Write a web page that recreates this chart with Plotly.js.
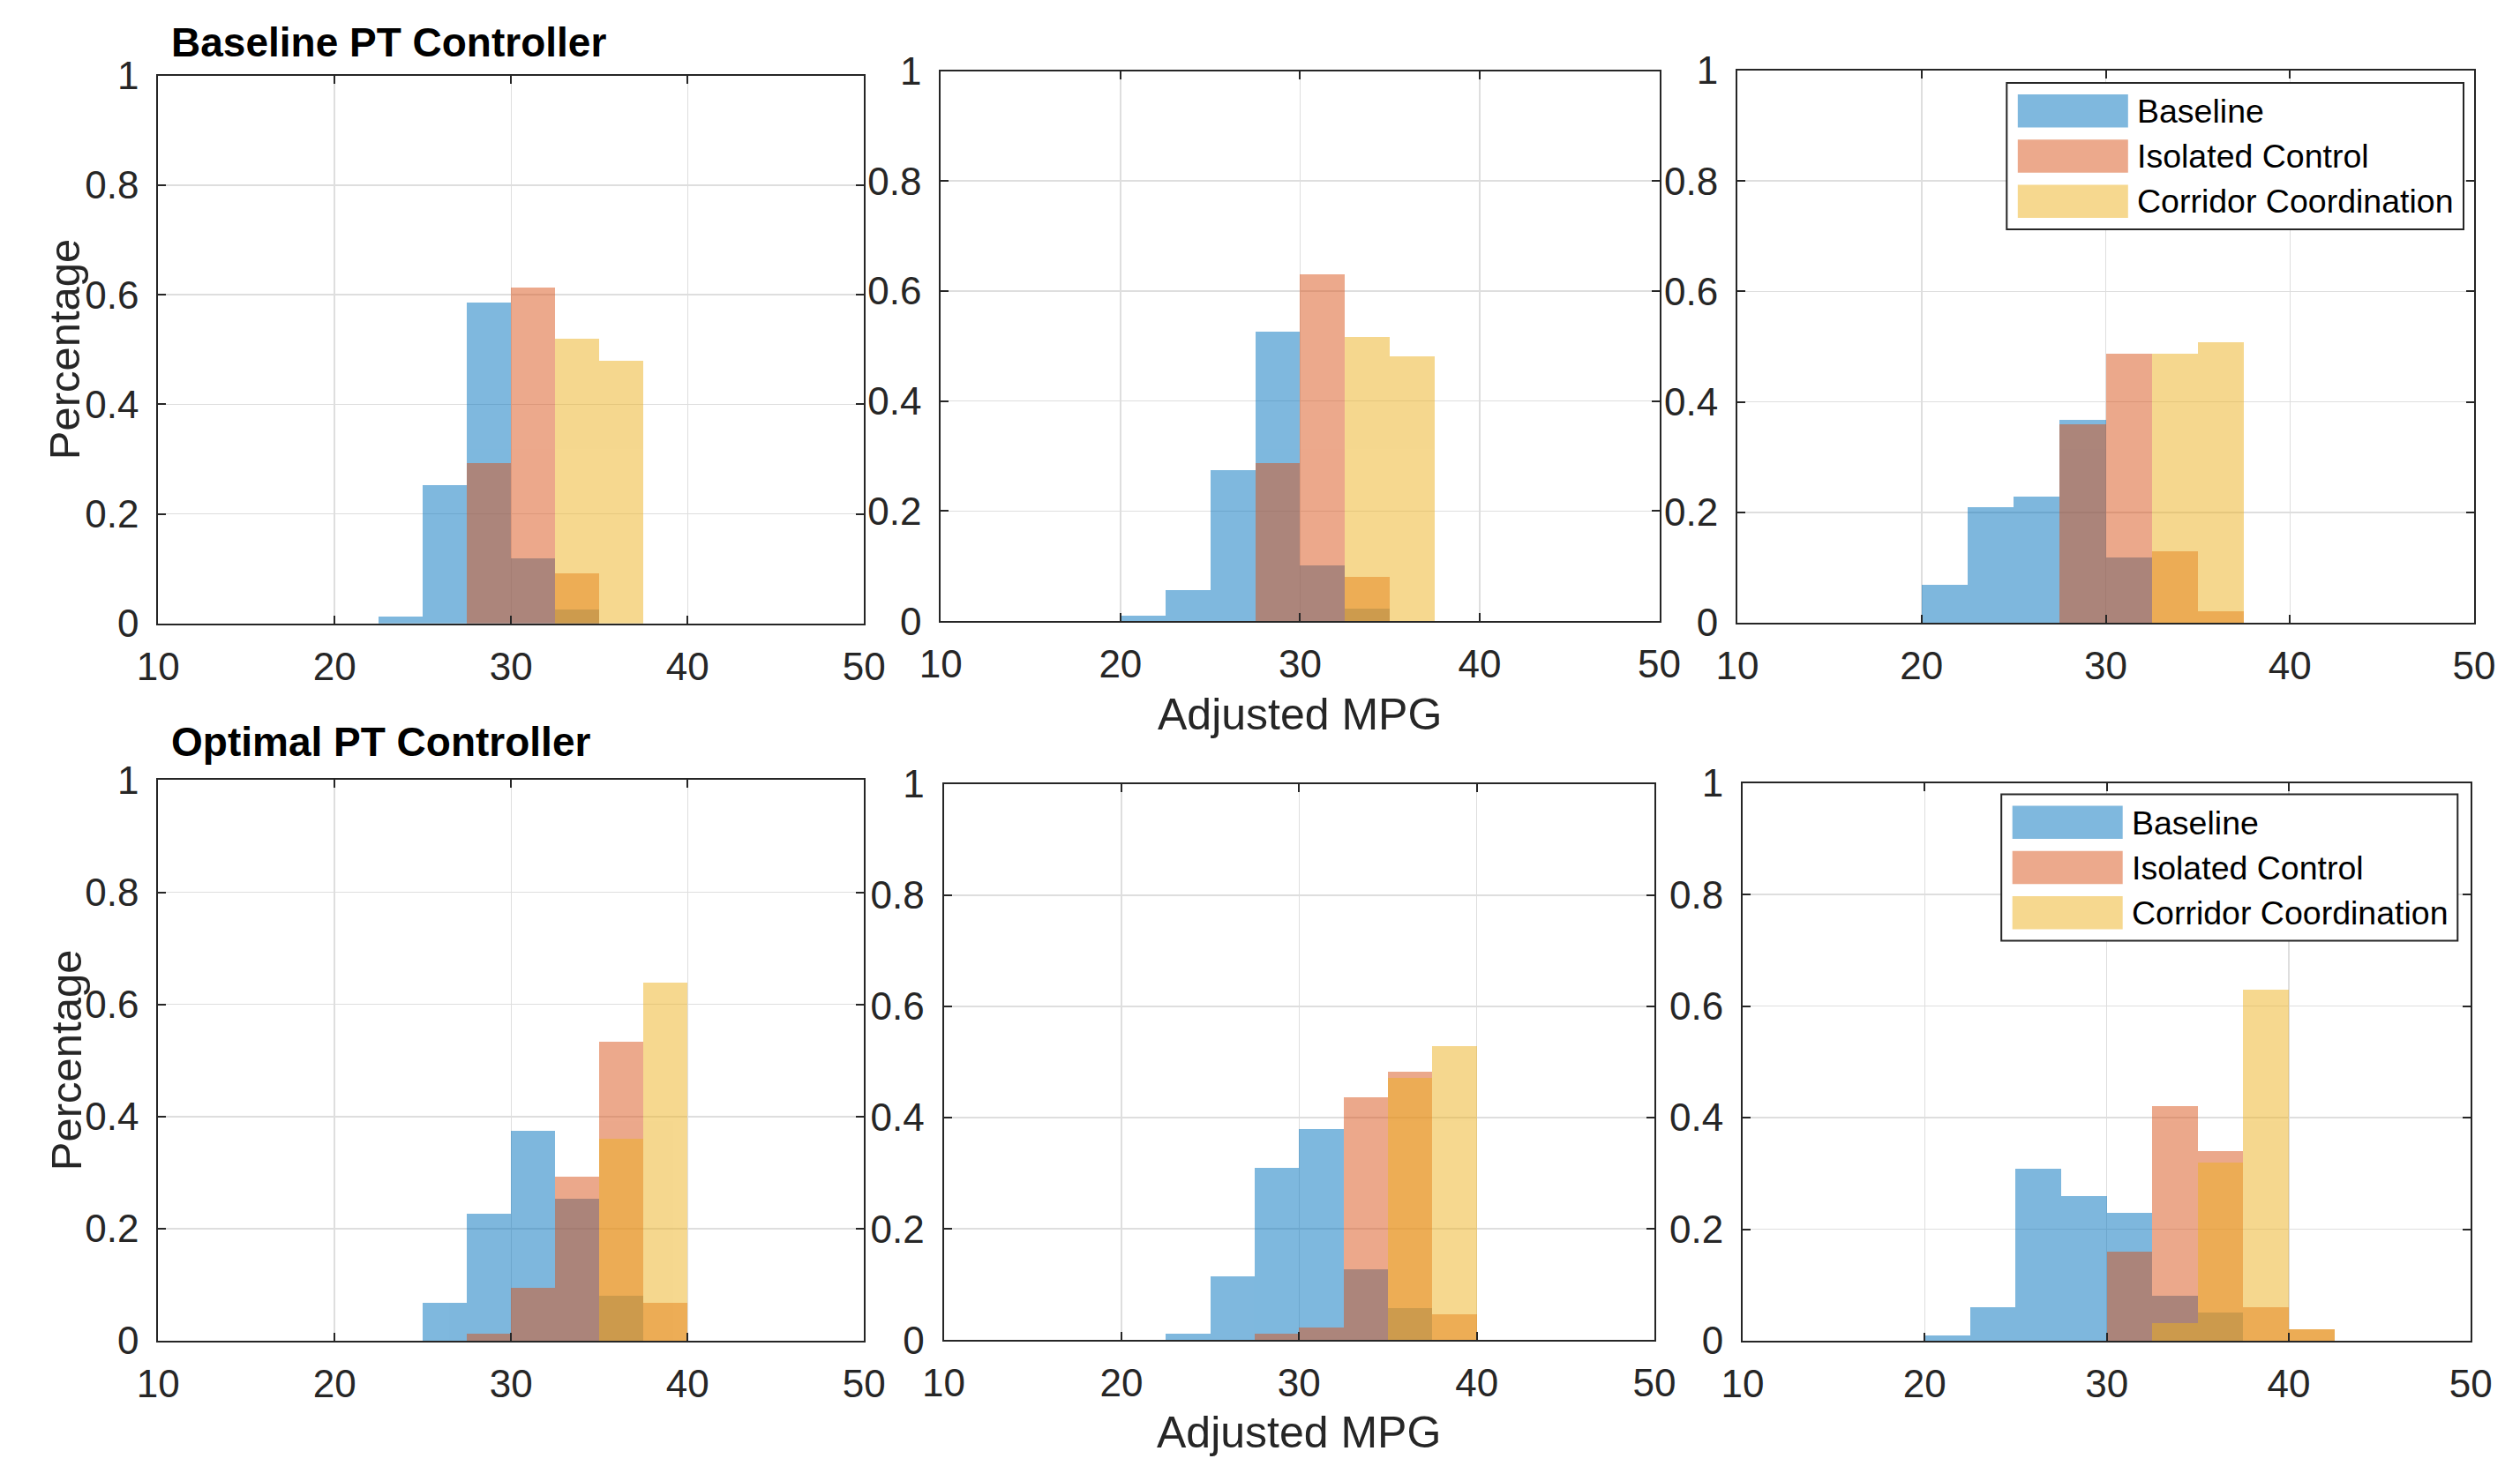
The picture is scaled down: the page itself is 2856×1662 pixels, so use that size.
<!DOCTYPE html>
<html>
<head>
<meta charset="utf-8">
<script src="https://cdn.plot.ly/plotly-3.0.1.min.js"></script>
<style>
  html, body { margin: 0; padding: 0; background: #ffffff; }
  #chart { width: 2856px; height: 1662px; }
</style>
</head>
<body>
<div id="chart"></div>
<script>
// Histogram bins (left edges, MPG) shared by every panel
const binLeft = [20, 22.5, 25, 27.5, 30, 32.5, 35, 37.5, 40];
const binWidth = 2.5;

const seriesNames = ['Baseline', 'Isolated Control', 'Corridor Coordination'];

const xTickVals = [10, 20, 30, 40, 50];
const yTickVals = [0, 0.2, 0.4, 0.6, 0.8, 1];
const yTickText = ['0', '0.2', '0.4', '0.6', '0.8', '1'];

const rowTitles = ['Baseline PT Controller', 'Optimal PT Controller'];
const xAxisLabel = 'Adjusted MPG';
const yAxisLabel = 'Percentage';

// Baseline PT controller - fraction of trips per bin
const basePT1Baseline = [0, 0.012, 0.252, 0.586, 0.119, 0.026, 0, 0, 0];
const basePT1Isolated = [0, 0, 0, 0.292, 0.613, 0.092, 0, 0, 0];
const basePT1Corridor = [0, 0, 0, 0, 0, 0.519, 0.479, 0, 0];

const basePT2Baseline = [0.010, 0.057, 0.275, 0.527, 0.102, 0.022, 0, 0, 0];
const basePT2Isolated = [0, 0, 0, 0.287, 0.631, 0.080, 0, 0, 0];
const basePT2Corridor = [0, 0, 0, 0, 0, 0.516, 0.482, 0, 0];

const basePT3Baseline = [0.069, 0.209, 0.229, 0.368, 0.119, 0, 0, 0, 0];
const basePT3Isolated = [0, 0, 0, 0.359, 0.488, 0.129, 0.020, 0, 0];
const basePT3Corridor = [0, 0, 0, 0, 0, 0.488, 0.508, 0, 0];

// Optimal PT controller - fraction of trips per bin
const optPT1Baseline = [0, 0, 0.068, 0.227, 0.374, 0.254, 0.080, 0, 0];
const optPT1Isolated = [0, 0, 0, 0.013, 0.095, 0.293, 0.534, 0.068, 0];
const optPT1Corridor = [0, 0, 0, 0, 0, 0, 0.361, 0.639, 0];

const optPT2Baseline = [0, 0.011, 0.115, 0.310, 0.379, 0.127, 0.057, 0, 0];
const optPT2Isolated = [0, 0, 0, 0.011, 0.022, 0.436, 0.482, 0.046, 0];
const optPT2Corridor = [0, 0, 0, 0, 0, 0, 0.472, 0.528, 0];

const optPT3Baseline = [0.010, 0.060, 0.309, 0.260, 0.229, 0.080, 0.050, 0, 0];
const optPT3Isolated = [0, 0, 0, 0, 0.160, 0.421, 0.340, 0.060, 0.020];
const optPT3Corridor = [0, 0, 0, 0, 0, 0.031, 0.320, 0.630, 0.020];

const panelSeries = [
  [basePT1Baseline, basePT1Isolated, basePT1Corridor],
  [basePT2Baseline, basePT2Isolated, basePT2Corridor],
  [basePT3Baseline, basePT3Isolated, basePT3Corridor],
  [optPT1Baseline, optPT1Isolated, optPT1Corridor],
  [optPT2Baseline, optPT2Isolated, optPT2Corridor],
  [optPT3Baseline, optPT3Isolated, optPT3Corridor]
];

// MATLAB-style default colours, drawn half transparent
const seriesRGB = ['0,114,189', '217,83,25', '237,177,32'];
const faceAlpha = 0.5;

// ---- layout geometry (pixels on the 2856 x 1662 page) ----
const W = 2856, H = 1662;
const fx = v => v / W;
const fy = v => 1 - v / H;

const panelBoxes = [
  { l: 179.2, r: 979.3, t: 85.7, b: 706.8 },
  { l: 1066.3, r: 1880.5, t: 80.5, b: 704.2 },
  { l: 1969.0, r: 2804.0, t: 80.0, b: 706.0 },
  { l: 179.2, r: 979.3, t: 884.4, b: 1520.0 },
  { l: 1069.5, r: 1875.0, t: 888.7, b: 1519.3 },
  { l: 1975.0, r: 2800.3, t: 887.7, b: 1520.0 }
];

const FONT = 'Liberation Sans, Arial, Helvetica, sans-serif';
const INK = '#262626';

const binCenters = binLeft.map(l => l + binWidth / 2);

const traces = [];
const layout = {
  width: W,
  height: H,
  margin: { l: 0, r: 0, t: 0, b: 0, pad: 0 },
  paper_bgcolor: '#ffffff',
  plot_bgcolor: '#ffffff',
  barmode: 'overlay',
  bargap: 0,
  showlegend: false,
  font: { family: FONT, color: INK },
  shapes: [],
  annotations: []
};

panelBoxes.forEach((box, i) => {
  const n = i + 1;
  const xa = n === 1 ? 'xaxis' : 'xaxis' + n;
  const ya = n === 1 ? 'yaxis' : 'yaxis' + n;
  const xr = n === 1 ? 'x' : 'x' + n;
  const yr = n === 1 ? 'y' : 'y' + n;

  panelSeries[i].forEach((vals, s) => {
    traces.push({
      type: 'bar',
      x: binCenters,
      y: vals,
      width: binWidth,
      name: seriesNames[s],
      xaxis: xr,
      yaxis: yr,
      opacity: faceAlpha,
      marker: { color: 'rgb(' + seriesRGB[s] + ')', line: { width: 0 } },
      hoverinfo: 'skip'
    });
  });

  const common = {
    showline: true,
    linecolor: INK,
    linewidth: 2,
    mirror: 'ticks',
    ticks: 'inside',
    ticklen: 9,
    tickwidth: 2,
    tickcolor: INK,
    showgrid: true,
    gridcolor: '#dedede',
    gridwidth: 1.5,
    zeroline: false,
    fixedrange: true,
    tickfont: { family: FONT, size: 44, color: INK }
  };

  layout[xa] = Object.assign({}, common, {
    domain: [fx(box.l), fx(box.r)],
    anchor: yr,
    range: [10, 50],
    tickmode: 'array',
    tickvals: xTickVals,
    ticktext: xTickVals.map(String),
    ticklabelstandoff: 9
  });
  layout[ya] = Object.assign({}, common, {
    domain: [fy(box.b), fy(box.t)],
    anchor: xr,
    range: [0, 1],
    tickmode: 'array',
    tickvals: yTickVals,
    ticktext: yTickText,
    ticklabelstandoff: 11
  });
});

// Row headings
[[192, 47.5, rowTitles[0]], [192, 841, rowTitles[1]]].forEach(([x, y, txt]) => {
  layout.annotations.push({
    xref: 'paper', yref: 'paper', x: fx(x), y: fy(y),
    xanchor: 'left', yanchor: 'middle', showarrow: false,
    text: '<b>' + txt + '</b>',
    font: { family: FONT, size: 46, color: '#000000' }
  });
});

// Y-axis titles on the left column
[[panelBoxes[0], 73], [panelBoxes[3], 75]].forEach(([box, x]) => {
  layout.annotations.push({
    xref: 'paper', yref: 'paper', x: fx(x), y: fy((box.t + box.b) / 2),
    xanchor: 'center', yanchor: 'middle', showarrow: false,
    textangle: -90, text: yAxisLabel,
    font: { family: FONT, size: 49, color: INK }
  });
});

// X-axis titles under the middle column
[[panelBoxes[1], 810], [panelBoxes[4], 1624]].forEach(([box, y]) => {
  layout.annotations.push({
    xref: 'paper', yref: 'paper', x: fx((box.l + box.r) / 2), y: fy(y),
    xanchor: 'center', yanchor: 'middle', showarrow: false,
    text: xAxisLabel,
    font: { family: FONT, size: 50, color: INK }
  });
});

// Legends inside the right-hand panels
function addLegend(frame) {
  layout.shapes.push({
    type: 'rect', xref: 'paper', yref: 'paper',
    x0: fx(frame.l), x1: fx(frame.r), y0: fy(frame.b), y1: fy(frame.t),
    line: { color: INK, width: 2 }, fillcolor: '#ffffff', layer: 'above'
  });
  seriesNames.forEach((name, s) => {
    const top = frame.t + 13 + s * 51.2;
    layout.shapes.push({
      type: 'rect', xref: 'paper', yref: 'paper',
      x0: fx(frame.l + 12.5), x1: fx(frame.l + 137.5),
      y0: fy(top + 37.5), y1: fy(top),
      line: { width: 0 }, fillcolor: 'rgba(' + seriesRGB[s] + ',' + faceAlpha + ')',
      layer: 'above'
    });
    layout.annotations.push({
      xref: 'paper', yref: 'paper', x: fx(frame.l + 146), y: fy(top + 19),
      xanchor: 'left', yanchor: 'middle', showarrow: false,
      text: name, font: { family: FONT, size: 37.5, color: '#000000' }
    });
  });
}
addLegend({ l: 2274.3, r: 2792.0, t: 94.0, b: 260.0 });
addLegend({ l: 2268.2, r: 2785.3, t: 900.5, b: 1066.5 });

Plotly.newPlot('chart', traces, layout, { staticPlot: true, displayModeBar: false });
</script>
</body>
</html>
